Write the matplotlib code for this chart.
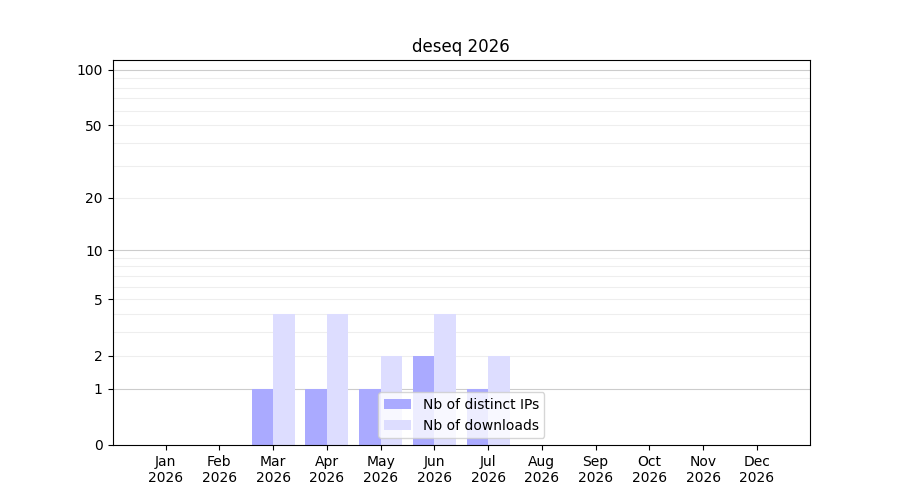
import numpy as np
import matplotlib
matplotlib.use("Agg")
import matplotlib.pyplot as plt

# data
months = ["Jan", "Feb", "Mar", "Apr", "May", "Jun", "Jul", "Aug", "Sep", "Oct", "Nov", "Dec"]
year = "2026"
distinct_ips = [0, 0, 1, 1, 1, 2, 1, 0, 0, 0, 0, 0]
downloads = [0, 0, 4, 4, 2, 4, 2, 0, 0, 0, 0, 0]
ytick_values = [0, 1, 2, 5, 10, 20, 50, 100]


def fwd(y):
    return np.log10(1 + np.clip(y, 0, None))


def inv(y):
    return 10 ** y - 1


x = np.arange(1, len(months) + 1)

fig, ax = plt.subplots(figsize=(9, 5), dpi=100)
ax.set_yscale("function", functions=(fwd, inv))

# grid: major at decades, minor in between
major = [1, 10, 100]
minor = [v * d for d in (1, 10) for v in range(2, 10)]
for v in minor:
    ax.axhline(v, color="#eeeeee", lw=0.8, zorder=0)
for v in major:
    ax.axhline(v, color="#cccccc", lw=0.8, zorder=0)

ax.bar(x - 0.2, distinct_ips, width=0.4, color="#aaaaff", label="Nb of distinct IPs", zorder=2)
ax.bar(x + 0.2, downloads, width=0.4, color="#ddddff", label="Nb of downloads", zorder=2)

ax.set_ylim(0, 113)
ax.set_yticks(ytick_values)
ax.set_yticklabels([str(v) for v in ytick_values])
ax.minorticks_off()
ax.set_xticks(x)
ax.set_xticklabels([f"{m}\n{year}" for m in months])
ax.set_title("deseq 2026")
ax.legend(loc="lower center")

fig.savefig("out.png")
